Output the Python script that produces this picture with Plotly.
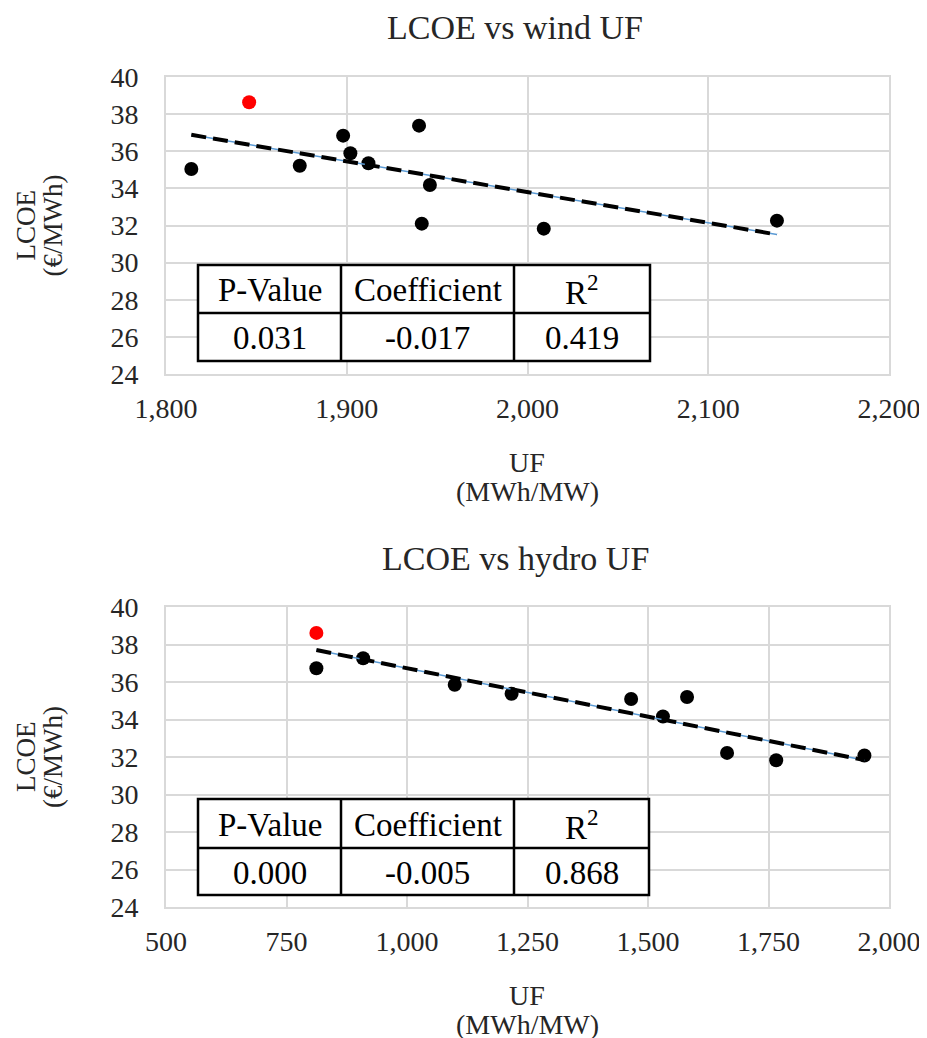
import numpy as np
import plotly.graph_objects as go

W, H = 927, 1038
PAGE_OFFSET = 8  # default body margin of the page that holds the figure

# ---- data ----
wind_uf = [1814, 1874, 1898, 1902, 1912, 1940, 1946, 1941.5, 2009, 2138]
wind_lcoe = [35.04, 35.22, 36.84, 35.89, 35.35, 37.38, 34.18, 32.10, 31.83, 32.26]
wind_red_uf = [1846]
wind_red_lcoe = [38.64]

hydro_uf = [812, 909, 1099, 1217, 1465, 1531, 1581, 1664, 1766, 1949]
hydro_lcoe = [36.73, 37.27, 35.85, 35.37, 35.09, 34.16, 35.20, 32.22, 31.83, 32.08]
hydro_red_uf = [812]
hydro_red_lcoe = [38.62]

table_headers = ["P-Value", "Coefficient", "R<sup>2</sup>"]
wind_stats = ["0.031", "-0.017", "0.419"]
hydro_stats = ["0.000", "-0.005", "0.868"]

titles = ["LCOE vs wind UF", "LCOE vs hydro UF"]
y_title_lines = ["LCOE", "(€/MWh)"]
x_title_lines = ["UF", "(MWh/MW)"]

FONT = "Liberation Serif, Times New Roman, serif"
TXT = "#262626"


def px(x):
    return (x - PAGE_OFFSET) / W


def py(y):
    return 1 - (y - PAGE_OFFSET) / H


fig = go.Figure()

panels = [
    dict(xs=wind_uf, ys=wind_lcoe, rx=wind_red_uf, ry=wind_red_lcoe,
         xa="x", ya="y", top=77, bot=374, xr=[1800, 2200], dx=100,
         stats=wind_stats, title=titles[0], title_y=28,
         tab=(198, 341, 514, 650, 265, 313, 361)),
    dict(xs=hydro_uf, ys=hydro_lcoe, rx=hydro_red_uf, ry=hydro_red_lcoe,
         xa="x2", ya="y2", top=607, bot=907, xr=[500, 2000], dx=250,
         stats=hydro_stats, title=titles[1], title_y=558,
         tab=(198, 341, 514, 649, 799, 848, 895)),
]

left, right = 166, 889
shapes = []
annotations = []


def text(t, x, y, size, color=TXT, angle=0):
    annotations.append(dict(text=t, x=px(x), y=py(y), xref="paper", yref="paper",
                            showarrow=False, xanchor="center", yanchor="middle",
                            textangle=angle,
                            font=dict(family=FONT, size=size, color=color)))


for i, p in enumerate(panels):
    all_x = np.array(p["xs"] + p["rx"], dtype=float)
    all_y = np.array(p["ys"] + p["ry"], dtype=float)
    slope, icpt = np.polyfit(all_x, all_y, 1)
    tx = np.array([all_x.min(), all_x.max()])
    ty = slope * tx + icpt

    fig.add_trace(go.Scatter(x=p["xs"], y=p["ys"], mode="markers",
                             marker=dict(color="black", size=14),
                             xaxis=p["xa"], yaxis=p["ya"], showlegend=False))
    fig.add_trace(go.Scatter(x=p["rx"], y=p["ry"], mode="markers",
                             marker=dict(color="#ff0000", size=14),
                             xaxis=p["xa"], yaxis=p["ya"], showlegend=False))
    fig.add_trace(go.Scatter(x=tx, y=ty, mode="lines",
                             line=dict(color="#5b9bd5", width=1.5),
                             xaxis=p["xa"], yaxis=p["ya"], showlegend=False))
    fig.add_trace(go.Scatter(x=tx, y=ty, mode="lines",
                             line=dict(color="black", width=4, dash="15px,7px"),
                             xaxis=p["xa"], yaxis=p["ya"], showlegend=False))

    axis_common = dict(showgrid=True, gridcolor="#d9d9d9", gridwidth=2,
                       showline=True, linecolor="#d9d9d9", linewidth=2,
                       mirror=True, zeroline=False, ticks="", automargin=False,
                       tickfont=dict(family=FONT, size=28, color=TXT))
    xkey = "xaxis" if i == 0 else "xaxis2"
    ykey = "yaxis" if i == 0 else "yaxis2"
    fig.update_layout(**{
        xkey: dict(domain=[px(left), px(right)], range=p["xr"], dtick=p["dx"],
                   tick0=p["xr"][0], tickformat=",", anchor=p["ya"],
                   ticklabelstandoff=8, **axis_common),
        ykey: dict(domain=[py(p["bot"]), py(p["top"])], range=[24, 40], dtick=2,
                   anchor=p["xa"], ticklabelstandoff=20, **axis_common),
    })

    # chart title
    text(p["title"], 515, p["title_y"], 34)
    # axis titles
    ymid = (p["top"] + p["bot"]) / 2
    text(y_title_lines[0], 26, ymid, 27, angle=-90)
    text(y_title_lines[1], 53, ymid, 27, angle=-90)
    text(x_title_lines[0], 527, p["bot"] + 88, 28)
    text(x_title_lines[1], 527, p["bot"] + 117, 28)

    # table
    x0, x1, x2, x3, y0, y1, y2 = p["tab"]
    shapes.append(dict(type="rect", xref="paper", yref="paper",
                       x0=px(x0), x1=px(x3), y0=py(y2), y1=py(y0),
                       fillcolor="white", line=dict(color="black", width=2.5),
                       layer="above"))
    for xx in (x1, x2):
        shapes.append(dict(type="line", xref="paper", yref="paper",
                           x0=px(xx), x1=px(xx), y0=py(y2), y1=py(y0),
                           line=dict(color="black", width=2.5), layer="above"))
    shapes.append(dict(type="line", xref="paper", yref="paper",
                       x0=px(x0), x1=px(x3), y0=py(y1), y1=py(y1),
                       line=dict(color="black", width=2.5), layer="above"))
    cols = [(x0 + x1) / 2, (x1 + x2) / 2, (x2 + x3) / 2]
    for c, hdr, val in zip(cols, table_headers, p["stats"]):
        text(hdr, c, (y0 + y1) / 2 + 1, 33, color="black")
        text(val, c, (y1 + y2) / 2 + 1, 33, color="black")

fig.update_layout(width=W, height=H, margin=dict(l=0, r=0, t=0, b=0, autoexpand=False),
                  paper_bgcolor="white", plot_bgcolor="white",
                  shapes=shapes, annotations=annotations, showlegend=False)

fig.write_html("out.html")
